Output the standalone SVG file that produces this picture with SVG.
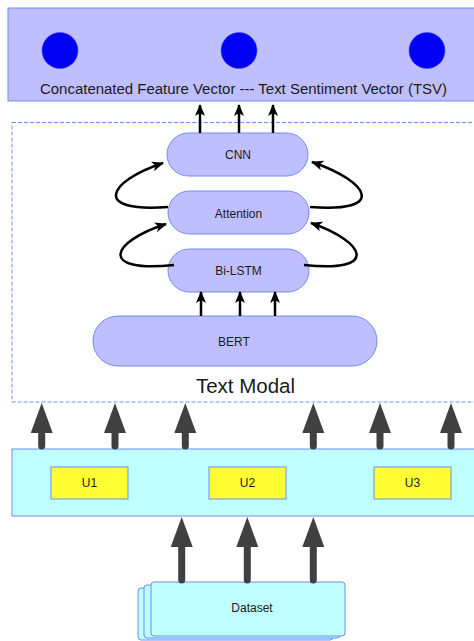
<svg xmlns="http://www.w3.org/2000/svg" width="474" height="641" viewBox="0 0 474 641">
<style>
text{font-family:"Liberation Sans",Arial,sans-serif;fill:#1a1a1a;text-anchor:middle}
.lav{fill:#bfbfff;stroke:#6f8cf5;stroke-width:1}
.cyan{fill:#bfffff;stroke:#6f8cf5;stroke-width:1}
.yel{fill:#ffff33;stroke:#6f8cf5;stroke-width:1}
.thin{fill:none;stroke:#000;stroke-width:2.5}
.curve{fill:none;stroke:#000;stroke-width:2.5}
.thick{fill:none;stroke:#404040;stroke-width:7;stroke-linecap:round}
.head{fill:#404040}
</style>
<defs>
<marker id="ah" markerUnits="userSpaceOnUse" markerWidth="12" markerHeight="12" viewBox="0 0 12 12" refX="11" refY="6" orient="auto">
<path d="M0,1 L12,6 L0,11 L3,6 Z" fill="#000"/>
</marker>
</defs>
<g id="tsv">
<rect x="8" y="8" width="480" height="93" class="lav"/>
<circle cx="60" cy="50.5" r="18" fill="#0000f5" stroke="#4040ff" stroke-width="0.5"/>
<circle cx="239" cy="50.5" r="18" fill="#0000f5" stroke="#4040ff" stroke-width="0.5"/>
<circle cx="427" cy="50.5" r="18" fill="#0000f5" stroke="#4040ff" stroke-width="0.5"/>
<text x="243.5" y="94" font-size="14" textLength="407" lengthAdjust="spacingAndGlyphs">Concatenated Feature Vector --- Text Sentiment Vector (TSV)</text>
</g>
<g id="text-modal">
<rect x="12" y="122.5" width="480" height="279.5" fill="none" stroke="#7090ff" stroke-width="1" stroke-dasharray="4 2"/>
<text x="245.5" y="392.5" font-size="20.5">Text Modal</text>
</g>
<g id="cnn">
<rect x="167" y="133" width="141" height="43" rx="21.5" class="lav"/>
<text x="238" y="159" font-size="12">CNN</text>
</g>
<g id="attention">
<rect x="168" y="191" width="141" height="43" rx="21.5" class="lav"/>
<text x="238.5" y="218" font-size="12">Attention</text>
</g>
<g id="bilstm">
<rect x="168" y="249" width="141" height="43" rx="21.5" class="lav"/>
<text x="238.5" y="275" font-size="12">Bi-LSTM</text>
</g>
<g id="bert">
<rect x="93" y="316" width="284" height="50" rx="25" class="lav"/>
<text x="234" y="346" font-size="12">BERT</text>
</g>
<g id="utterances">
<rect x="12" y="449" width="480" height="67" class="cyan"/>
<rect x="51" y="467" width="77" height="32" class="yel"/>
<text x="89.5" y="487" font-size="12">U1</text>
<rect x="209" y="467" width="77" height="32" class="yel"/>
<text x="247.5" y="487" font-size="12">U2</text>
<rect x="374" y="467" width="77" height="32" class="yel"/>
<text x="412.5" y="487" font-size="12">U3</text>
</g>
<g id="dataset">
<rect x="138" y="588" width="195" height="52" rx="3" class="cyan"/>
<rect x="144" y="585" width="196" height="53" rx="3" class="cyan"/>
<rect x="151" y="582" width="194" height="54" rx="3" class="cyan"/>
<text x="252" y="612" font-size="12">Dataset</text>
</g>
<g id="connectors">
<line x1="200" y1="133" x2="200" y2="105" class="thin" marker-end="url(#ah)"/>
<line x1="239" y1="133" x2="239" y2="105" class="thin" marker-end="url(#ah)"/>
<line x1="273" y1="133" x2="273" y2="105" class="thin" marker-end="url(#ah)"/>
<line x1="201" y1="316" x2="201" y2="292" class="thin" marker-end="url(#ah)"/>
<line x1="240" y1="316" x2="240" y2="292" class="thin" marker-end="url(#ah)"/>
<line x1="275" y1="316" x2="275" y2="292" class="thin" marker-end="url(#ah)"/>
<path d="M174,265 C98,273 110,242 166,224" class="curve" marker-end="url(#ah)"/>
<path d="M168,207 C93,213 106,182 163,163" class="curve" marker-end="url(#ah)"/>
<path d="M304,265 C380,273 366,242 311,223" class="curve" marker-end="url(#ah)"/>
<path d="M310,207 C387,213 370,182 312,162" class="curve" marker-end="url(#ah)"/>
<g id="up-arrows">
<line x1="41.7" y1="446" x2="41.7" y2="428" class="thick"/><path d="M30.7,433 L41.7,403 L52.7,433 Z" class="head"/>
<line x1="115" y1="446" x2="115" y2="428" class="thick"/><path d="M104,433 L115,403 L126,433 Z" class="head"/>
<line x1="185.3" y1="446" x2="185.3" y2="428" class="thick"/><path d="M174.3,433 L185.3,403 L196.3,433 Z" class="head"/>
<line x1="313.3" y1="446" x2="313.3" y2="428" class="thick"/><path d="M302.3,433 L313.3,403 L324.3,433 Z" class="head"/>
<line x1="380" y1="446" x2="380" y2="428" class="thick"/><path d="M369,433 L380,403 L391,433 Z" class="head"/>
<line x1="451" y1="446" x2="451" y2="428" class="thick"/><path d="M440,433 L451,403 L462,433 Z" class="head"/>
<line x1="181.7" y1="580" x2="181.7" y2="540" class="thick"/><path d="M170.7,547 L181.7,517 L192.7,547 Z" class="head"/>
<line x1="247.3" y1="580" x2="247.3" y2="540" class="thick"/><path d="M236.3,547 L247.3,517 L258.3,547 Z" class="head"/>
<line x1="313.3" y1="580" x2="313.3" y2="540" class="thick"/><path d="M302.3,547 L313.3,517 L324.3,547 Z" class="head"/>
</g>
</g>
</svg>
